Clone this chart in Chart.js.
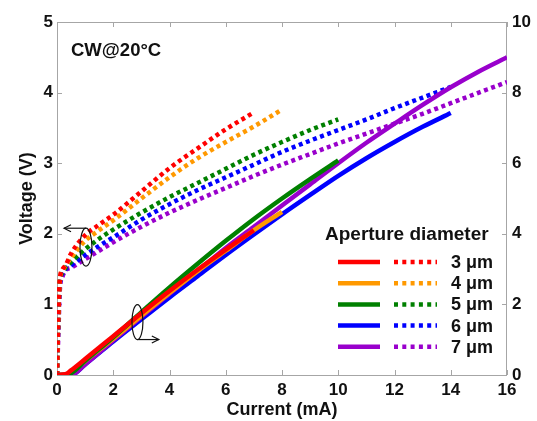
<!DOCTYPE html>
<html>
<head>
<meta charset="utf-8">
<script src="https://cdn.jsdelivr.net/npm/chart.js@4.4.0/dist/chart.umd.min.js"></script>
<style>
  html, body { margin: 0; padding: 0; background: #fff; }
  #wrap { width: 537px; height: 421px; }
</style>
</head>
<body>
<div id="wrap"><canvas id="ivChart" width="537" height="421"></canvas></div>
<script>
// Voltage curves (left axis) - current grid in mA
const currentV = [0, 0.05, 0.1, 0.2, 0.3, 0.5, 1, 1.5, 2, 3, 4, 5, 6, 7, 8, 9, 10, 11, 12, 13, 14, 15, 16];
const voltage3um = [0, 0.9, 1.35, 1.5, 1.55, 1.72, 1.98, 2.13, 2.27, 2.6, 2.93, 3.21, 3.48, 3.72];
const voltage4um = [0, 0.9, 1.33, 1.48, 1.55, 1.66, 1.9, 2.05, 2.19, 2.5, 2.8, 3.07, 3.3, 3.52, 3.76];
const voltage5um = [0, 0.88, 1.32, 1.45, 1.52, 1.6, 1.78, 1.93, 2.06, 2.3, 2.52, 2.72, 2.92, 3.12, 3.3, 3.47, 3.62];
const voltage6um = [0, 0.85, 1.3, 1.44, 1.5, 1.55, 1.7, 1.83, 1.95, 2.2, 2.42, 2.62, 2.8, 2.98, 3.16, 3.32, 3.47, 3.62, 3.78, 3.93, 4.08];
const voltage7um = [0, 0.6, 1.2, 1.4, 1.48, 1.52, 1.64, 1.76, 1.88, 2.1, 2.3, 2.48, 2.65, 2.82, 2.98, 3.13, 3.28, 3.42, 3.56, 3.7, 3.85, 4.0, 4.15];

// Output power curves (right axis) - current grid in mA
const currentP = [0, 0.3, 0.5, 1, 2, 3, 4, 5, 6, 7, 8, 9, 10, 11, 12, 13, 14, 15, 16];
const power3um = [0, 0.02, 0.13, 0.45, 1.1, 1.75, 2.38, 2.98, 3.55, 4.1];
const power4um = [0, 0, 0.08, 0.4, 1.03, 1.68, 2.32, 2.94, 3.52, 4.1, 4.62];
const power5um = [0, 0, 0.05, 0.4, 1.07, 1.78, 2.48, 3.15, 3.8, 4.42, 5.0, 5.55, 6.08];
const power6um = [0, 0, 0, 0.3, 0.95, 1.58, 2.2, 2.8, 3.4, 3.98, 4.55, 5.1, 5.64, 6.14, 6.6, 7.03, 7.42];
const power7um = [0, 0, 0, 0.3, 0.98, 1.65, 2.3, 2.95, 3.6, 4.2, 4.8, 5.4, 6.0, 6.58, 7.12, 7.65, 8.15, 8.6, 9.0];

const apertures = ['3 \u03bcm', '4 \u03bcm', '5 \u03bcm', '6 \u03bcm', '7 \u03bcm'];
const colors = ['#ff0000', '#ff9900', '#008000', '#0000ff', '#9900cc'];

const FONT = '"Liberation Sans", Arial, sans-serif';
const DOT_PLOT = [4, 3.6];
const DOT_LEGEND = [4, 4.3];

function pts(xs, ys) {
    return ys.map((y, i) => ({ x: xs[i], y: y }));
}

function solid(data, color, order) {
    return {
        data: pts(currentP, data), borderColor: color, borderWidth: 4.5,
        pointRadius: 0, cubicInterpolationMode: 'monotone', yAxisID: 'y1', order: order
    };
}

function dotted(data, color, order) {
    return {
        data: pts(currentV, data), borderColor: color, borderWidth: 4.5, borderDash: DOT_PLOT,
        borderCapStyle: 'butt', pointRadius: 0, cubicInterpolationMode: 'monotone', yAxisID: 'y', order: order
    };
}

// frame + inward tick marks (under the lines)
const framePlugin = {
    id: 'frame',
    beforeDatasetsDraw(chart) {
        const { ctx, chartArea: a, scales } = chart;
        ctx.save();
        ctx.strokeStyle = '#a6a6a6';
        ctx.lineWidth = 1;
        ctx.strokeRect(a.left + 0.5, a.top + 0.5, a.right - a.left - 1, a.bottom - a.top);
        ctx.beginPath();
        scales.x.ticks.forEach(t => {
            const px = Math.round(scales.x.getPixelForValue(t.value)) + 0.5;
            ctx.moveTo(px, a.bottom); ctx.lineTo(px, a.bottom - 5);
            ctx.moveTo(px, a.top); ctx.lineTo(px, a.top + 5);
        });
        scales.y.ticks.forEach(t => {
            const py = Math.round(scales.y.getPixelForValue(t.value)) + 0.5;
            ctx.moveTo(a.left, py); ctx.lineTo(a.left + 5, py);
        });
        scales.y1.ticks.forEach(t => {
            const py = Math.round(scales.y1.getPixelForValue(t.value)) + 0.5;
            ctx.moveTo(a.right, py); ctx.lineTo(a.right - 5, py);
        });
        ctx.stroke();
        ctx.restore();
    }
};

function arrowHead(ctx, x, y, dir) {
    ctx.beginPath();
    ctx.moveTo(x + dir * 7, y - 3.5);
    ctx.lineTo(x, y);
    ctx.lineTo(x + dir * 7, y + 3.5);
    ctx.stroke();
}

// text, legend and axis arrows on top
const notesPlugin = {
    id: 'notes',
    afterDraw(chart) {
        const { ctx, scales } = chart;
        const x = scales.x, y = scales.y;
        ctx.save();
        ctx.fillStyle = '#111';
        ctx.textBaseline = 'middle';
        ctx.font = 'bold 18.5px ' + FONT;
        ctx.fillText('CW@20\u00b0C', 71, 51);

        // legend
        ctx.font = 'bold 19px ' + FONT;
        ctx.fillText('Aperture diameter', 325, 235);
        ctx.font = 'bold 18px ' + FONT;
        apertures.forEach((label, i) => {
            const ry = 262 + i * 21.2;
            ctx.strokeStyle = colors[i];
            ctx.lineWidth = 4.5;
            ctx.setLineDash([]);
            ctx.beginPath(); ctx.moveTo(338, ry); ctx.lineTo(380, ry); ctx.stroke();
            ctx.setLineDash(DOT_LEGEND);
            ctx.beginPath(); ctx.moveTo(394, ry); ctx.lineTo(437, ry); ctx.stroke();
            ctx.setLineDash([]);
            ctx.fillStyle = '#111';
            ctx.fillText(label, 451, ry + 1);
        });

        // arrow to the voltage axis
        ctx.strokeStyle = '#111';
        ctx.lineWidth = 1.2;
        let cx = x.getPixelForValue(1.03), cy = y.getPixelForValue(1.81);
        ctx.beginPath(); ctx.ellipse(cx, cy, 6, 19, 0, 0, Math.PI * 2); ctx.stroke();
        const tipL = x.getPixelForValue(0.25);
        ctx.beginPath(); ctx.moveTo(cx, cy - 19); ctx.lineTo(tipL, cy - 19); ctx.stroke();
        arrowHead(ctx, tipL, cy - 19, 1);

        // arrow to the power axis
        cx = x.getPixelForValue(2.86); cy = y.getPixelForValue(0.75);
        ctx.beginPath(); ctx.ellipse(cx, cy, 5.5, 17.5, 0, 0, Math.PI * 2); ctx.stroke();
        const tipR = x.getPixelForValue(3.62);
        ctx.beginPath(); ctx.moveTo(cx, cy + 17.5); ctx.lineTo(tipR, cy + 17.5); ctx.stroke();
        arrowHead(ctx, tipR, cy + 17.5, -1);
        ctx.restore();
    }
};

const tickFont = { family: FONT, size: 17, weight: 'bold' };
const titleFont = { family: FONT, size: 18, weight: 'bold' };

new Chart(document.getElementById('ivChart'), {
    type: 'line',
    data: {
        datasets: [
            solid(power3um, colors[0], 0),
            solid(power5um, colors[2], 1),
            solid(power4um, colors[1], 2),
            solid(power7um, colors[4], 3),
            solid(power6um, colors[3], 4),
            dotted(voltage3um, colors[0], 5),
            dotted(voltage4um, colors[1], 6),
            dotted(voltage5um, colors[2], 7),
            dotted(voltage6um, colors[3], 8),
            dotted(voltage7um, colors[4], 9)
        ]
    },
    options: {
        responsive: false,
        animation: false,
        layout: { padding: { top: 22, right: 0, left: 0, bottom: 0 } },
        plugins: { legend: { display: false }, tooltip: { enabled: false } },
        scales: {
            x: {
                type: 'linear', min: 0, max: 16,
                grid: { display: false, drawTicks: false }, border: { display: false },
                ticks: { stepSize: 2, color: '#111', font: tickFont, padding: 5 },
                title: { display: true, text: 'Current (mA)', color: '#111', font: titleFont, padding: { top: 0, bottom: 0 } },
                afterFit: s => { s.height = 46; }
            },
            y: {
                type: 'linear', position: 'left', min: 0, max: 5,
                grid: { display: false, drawTicks: false }, border: { display: false },
                ticks: { stepSize: 1, color: '#111', font: tickFont, padding: 4 },
                title: { display: true, text: 'Voltage (V)', color: '#111', font: titleFont, padding: { top: 16, bottom: 0 } },
                afterFit: s => { s.width = 57; }
            },
            y1: {
                type: 'linear', position: 'right', min: 0, max: 10,
                grid: { display: false, drawTicks: false }, border: { display: false },
                ticks: { stepSize: 2, color: '#111', font: tickFont, padding: 5 },
                afterFit: s => { s.width = 30; }
            }
        }
    },
    plugins: [framePlugin, notesPlugin]
});
</script>
</body>
</html>
